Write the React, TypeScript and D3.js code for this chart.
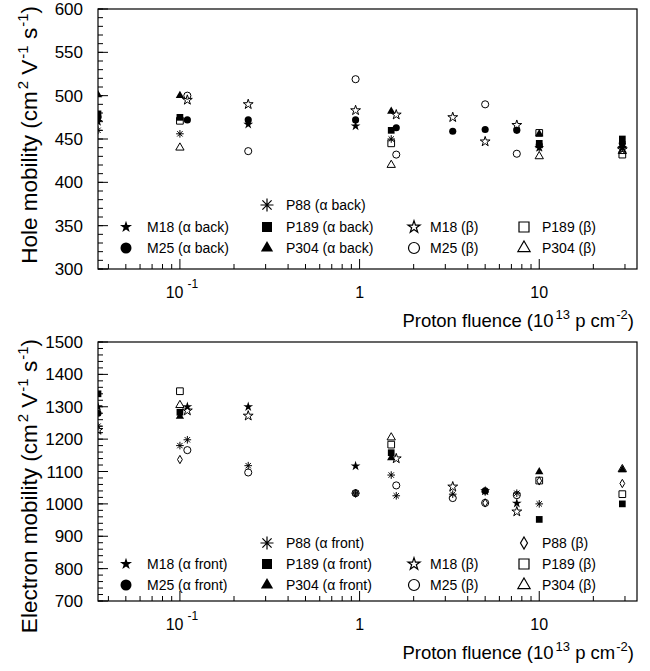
import React from 'react';
import * as d3 from 'd3';

const W = 650;
const H = 671;
const FONT = "'Liberation Sans', Arial, Helvetica, sans-serif";

// ---------- axes ----------
const xDomain: [number, number] = [0.035, 35];
const holeDomain: [number, number] = [300, 600];
const elecDomain: [number, number] = [700, 1500];
const holeTicks = [300, 350, 400, 450, 500, 550, 600];
const elecTicks = [700, 800, 900, 1000, 1100, 1200, 1300, 1400, 1500];
const xLabelTicks = [
  { v: 0.1, base: '10', sup: '-1' },
  { v: 1, base: '1', sup: '' },
  { v: 10, base: '10', sup: '' },
];

// ---------- hole mobility data (fluence, mobility) ----------
const holeM18Alpha: [number, number][] = [[0.035, 470], [0.24, 467], [0.95, 465], [10, 440], [29, 440]];
const holeM25Alpha: [number, number][] = [[0.035, 475], [0.11, 472], [0.24, 472], [0.95, 472], [1.6, 463], [3.3, 459], [5, 461], [7.5, 460], [10, 443], [29, 445]];
const holeP88Alpha: [number, number][] = [[0.035, 460], [0.1, 456], [1.5, 450], [10, 440], [29, 440]];
const holeP189Alpha: [number, number][] = [[0.035, 479], [0.1, 475], [1.5, 460], [10, 445], [29, 450]];
const holeP304Alpha: [number, number][] = [[0.035, 501], [0.1, 500], [1.5, 482], [10, 456], [29, 442]];
const holeM18Beta: [number, number][] = [[0.11, 495], [0.24, 490], [0.95, 483], [1.6, 478], [3.3, 475], [5, 447], [7.5, 466], [29, 438]];
const holeM25Beta: [number, number][] = [[0.11, 500], [0.24, 436], [0.95, 519], [1.6, 432], [5, 490], [7.5, 433]];
const holeP189Beta: [number, number][] = [[0.1, 471], [1.5, 445], [10, 457], [29, 432]];
const holeP304Beta: [number, number][] = [[0.1, 440], [1.5, 420], [10, 430], [29, 436]];

// ---------- electron mobility data ----------
const elecM18Alpha: [number, number][] = [[0.035, 1300], [0.11, 1300], [0.24, 1300], [0.95, 1117], [5, 1040], [7.5, 1002]];
const elecM25Alpha: [number, number][] = [[0.035, 1280], [5, 1040]];
const elecP88Alpha: [number, number][] = [[0.035, 1240], [0.1, 1180], [0.11, 1198], [0.24, 1118], [0.95, 1033], [1.5, 1089], [1.6, 1025], [3.3, 1030], [5, 1037], [7.5, 1033], [10, 1000]];
const elecP189Alpha: [number, number][] = [[0.035, 1340], [0.1, 1283], [1.5, 1158], [10, 952], [29, 1000]];
const elecP304Alpha: [number, number][] = [[0.1, 1270], [1.5, 1142], [10, 1099], [29, 1105]];
const elecM18Beta: [number, number][] = [[0.035, 1228], [0.11, 1288], [0.24, 1272], [1.6, 1140], [3.3, 1053], [7.5, 976]];
const elecM25Beta: [number, number][] = [[0.11, 1166], [0.24, 1097], [0.95, 1033], [1.6, 1057], [3.3, 1018], [5, 1003], [7.5, 1027]];
const elecP88Beta: [number, number][] = [[0.1, 1137], [0.95, 1033], [5, 1003], [10, 1071], [29, 1063]];
const elecP189Beta: [number, number][] = [[0.1, 1348], [1.5, 1183], [10, 1072], [29, 1030]];
const elecP304Beta: [number, number][] = [[0.1, 1305], [1.5, 1205], [29, 1107]];

type Kind = 'starF' | 'circleF' | 'aster' | 'squareF' | 'triF' | 'starO' | 'circleO' | 'squareO' | 'triO' | 'diamO';

interface Series { label: string; kind: Kind; data: [number, number][]; col: number; row: number; }

const holeSeries: Series[] = [
  { label: 'M18 (\u03b1 back)', kind: 'starF', data: holeM18Alpha, col: 0, row: 1 },
  { label: 'M25 (\u03b1 back)', kind: 'circleF', data: holeM25Alpha, col: 0, row: 2 },
  { label: 'P88 (\u03b1 back)', kind: 'aster', data: holeP88Alpha, col: 1, row: 0 },
  { label: 'P189 (\u03b1 back)', kind: 'squareF', data: holeP189Alpha, col: 1, row: 1 },
  { label: 'P304 (\u03b1 back)', kind: 'triF', data: holeP304Alpha, col: 1, row: 2 },
  { label: 'M18 (\u03b2)', kind: 'starO', data: holeM18Beta, col: 2, row: 1 },
  { label: 'M25 (\u03b2)', kind: 'circleO', data: holeM25Beta, col: 2, row: 2 },
  { label: 'P189 (\u03b2)', kind: 'squareO', data: holeP189Beta, col: 3, row: 1 },
  { label: 'P304 (\u03b2)', kind: 'triO', data: holeP304Beta, col: 3, row: 2 },
];

const elecSeries: Series[] = [
  { label: 'M18 (\u03b1 front)', kind: 'starF', data: elecM18Alpha, col: 0, row: 1 },
  { label: 'M25 (\u03b1 front)', kind: 'circleF', data: elecM25Alpha, col: 0, row: 2 },
  { label: 'P88 (\u03b1 front)', kind: 'aster', data: elecP88Alpha, col: 1, row: 0 },
  { label: 'P189 (\u03b1 front)', kind: 'squareF', data: elecP189Alpha, col: 1, row: 1 },
  { label: 'P304 (\u03b1 front)', kind: 'triF', data: elecP304Alpha, col: 1, row: 2 },
  { label: 'M18 (\u03b2)', kind: 'starO', data: elecM18Beta, col: 2, row: 1 },
  { label: 'M25 (\u03b2)', kind: 'circleO', data: elecM25Beta, col: 2, row: 2 },
  { label: 'P88 (\u03b2)', kind: 'diamO', data: elecP88Beta, col: 3, row: 0 },
  { label: 'P189 (\u03b2)', kind: 'squareO', data: elecP189Beta, col: 3, row: 1 },
  { label: 'P304 (\u03b2)', kind: 'triO', data: elecP304Beta, col: 3, row: 2 },
];

// ---------- layout ----------
const PL = 98;
const PR = 637;
const legendSymX = [126, 267, 414, 524];
const legendTextX = [147, 286, 430, 542];

function markerPath(kind: Kind, big: boolean): string {
  const s = big ? 1 : 0;
  switch (kind) {
    case 'starF':
    case 'starO':
      return d3.symbol().type(d3.symbolStar).size([30, 45][s])() as string;
    case 'circleF':
    case 'circleO':
      return d3.symbol().type(d3.symbolCircle).size([40, 95][s])() as string;
    case 'squareF':
    case 'squareO':
      return d3.symbol().type(d3.symbolSquare).size([45, 100][s])() as string;
    case 'triF':
    case 'triO':
      return d3.symbol().type(d3.symbolTriangle).size([30, 65][s])() as string;
    case 'diamO':
      return d3.symbol().type(d3.symbolDiamond).size([20, 42][s])() as string;
    case 'aster': {
      const r = big ? 6.5 : 3.8;
      const d = r * 0.7071;
      const p = d3.path();
      p.moveTo(-r, 0); p.lineTo(r, 0);
      p.moveTo(0, -r); p.lineTo(0, r);
      p.moveTo(-d, -d); p.lineTo(d, d);
      p.moveTo(-d, d); p.lineTo(d, -d);
      return p.toString();
    }
  }
  return '';
}

function Marker({ kind, x, y, big }: { kind: Kind; x: number; y: number; big: boolean }) {
  const filled = kind.endsWith('F');
  const d = markerPath(kind, big);
  if (kind === 'aster') {
    return <path d={d} transform={`translate(${x},${y})`} fill="none" stroke="#000" strokeWidth={big ? 1.2 : 1} />;
  }
  return (
    <path
      d={d}
      transform={`translate(${x},${y})`}
      fill={filled ? '#000' : 'none'}
      stroke="#000"
      strokeWidth={filled ? 0 : big ? 1.2 : 1}
    />
  );
}

interface PanelProps {
  id: string;
  top: number;
  bottom: number;
  domain: [number, number];
  ticks: number[];
  minorStep: number;
  series: Series[];
  yTitle: string;
  legendRowY: number[];
}

function Panel({ id, top, bottom, domain, ticks, minorStep, series, yTitle, legendRowY }: PanelProps) {
  const x = d3.scaleLog().domain(xDomain).range([PL, PR]);
  const y = d3.scaleLinear().domain(domain).range([bottom, top]);
  const minorY = d3.range(domain[0], domain[1] + 0.001, minorStep);
  const xMinor = x.ticks().filter((v) => v >= xDomain[0] && v <= xDomain[1]);
  const isMajor = (v: number) => Math.abs(Math.log10(v) - Math.round(Math.log10(v))) < 1e-6;

  return (
    <g>
      <defs>
        <clipPath id={`clip-${id}`}>
          <rect x={PL} y={top} width={PR - PL} height={bottom - top} />
        </clipPath>
      </defs>
      {/* y ticks */}
      {minorY.map((v) => (
        <line key={`ym${v}`} x1={PL} x2={PL + 5} y1={y(v)} y2={y(v)} stroke="#000" strokeWidth={1} />
      ))}
      {ticks.map((v) => (
        <g key={`yt${v}`}>
          <line x1={PL} x2={PL + 10} y1={y(v)} y2={y(v)} stroke="#000" strokeWidth={1} />
          <text x={83} y={y(v)} dy="0.36em" textAnchor="end" fontSize={17} fontFamily={FONT}>
            {v}
          </text>
        </g>
      ))}
      {/* x ticks */}
      {xMinor.map((v) => (
        <line
          key={`xm${v}`}
          x1={x(v)}
          x2={x(v)}
          y1={bottom}
          y2={bottom - (isMajor(v) ? 10 : 5)}
          stroke="#000"
          strokeWidth={1}
        />
      ))}
      {xLabelTicks.map((t) => (
        <text
          key={`xl${t.v}`}
          x={x(t.v) + (t.sup ? 2 : 0)}
          y={bottom + 29}
          textAnchor="middle"
          fontSize={16}
          fontFamily={FONT}
        >
          {t.base}
          {t.sup ? (
            <tspan dx={4} dy={-10} fontSize={12}>
              {t.sup}
            </tspan>
          ) : null}
        </text>
      ))}
      {/* x title */}
      <text x={634} y={bottom + 58} textAnchor="end" fontSize={18.5} fontFamily={FONT}>
        Proton fluence (10
        <tspan dx={2} dy={-8} fontSize={13}>13</tspan>
        <tspan dy={8}> p cm</tspan>
        <tspan dx={1} dy={-8} fontSize={13}>-2</tspan>
        <tspan dy={8}>)</tspan>
      </text>
      {/* y title */}
      <text
        transform={`translate(37,${top - 3}) rotate(-90)`}
        textAnchor="end"
        fontSize={22.5}
        fontFamily={FONT}
      >
        {yTitle} (cm
        <tspan dx={2} dy={-9} fontSize={15}>2</tspan>
        <tspan dy={9}> V</tspan>
        <tspan dx={1} dy={-9} fontSize={15}>-1</tspan>
        <tspan dy={9}> s</tspan>
        <tspan dx={1} dy={-9} fontSize={15}>-1</tspan>
        <tspan dy={9}>)</tspan>
      </text>
      {/* data */}
      <g clipPath={`url(#clip-${id})`}>
        {series.map((s) =>
          s.data.map((p, i) => <Marker key={`${s.label}-${i}`} kind={s.kind} x={x(p[0])} y={y(p[1])} big={false} />)
        )}
      </g>
      {/* legend */}
      {series.map((s) => (
        <g key={`lg-${s.label}`}>
          <Marker kind={s.kind} x={legendSymX[s.col]} y={legendRowY[s.row]} big={true} />
          <text x={legendTextX[s.col]} y={legendRowY[s.row]} dy="0.36em" fontSize={14} fontFamily={FONT}>
            {s.label}
          </text>
        </g>
      ))}
      {/* frame */}
      <rect x={PL} y={top} width={PR - PL} height={bottom - top} fill="none" stroke="#000" strokeWidth={1.2} />
    </g>
  );
}

export default function App() {
  return (
    <svg
      width={W}
      height={H}
      viewBox={`0 0 ${W} ${H}`}
      style={{ position: 'absolute', left: 0, top: 0, background: '#fff', display: 'block' }}
    >
      <rect x={0} y={0} width={W} height={H} fill="#fff" />
      <Panel
        id="hole"
        top={9}
        bottom={269}
        domain={holeDomain}
        ticks={holeTicks}
        minorStep={10}
        series={holeSeries}
        yTitle="Hole mobility"
        legendRowY={[205, 227, 248]}
      />
      <Panel
        id="elec"
        top={342}
        bottom={601}
        domain={elecDomain}
        ticks={elecTicks}
        minorStep={20}
        series={elecSeries}
        yTitle="Electron mobility"
        legendRowY={[543, 564, 585]}
      />
    </svg>
  );
}
